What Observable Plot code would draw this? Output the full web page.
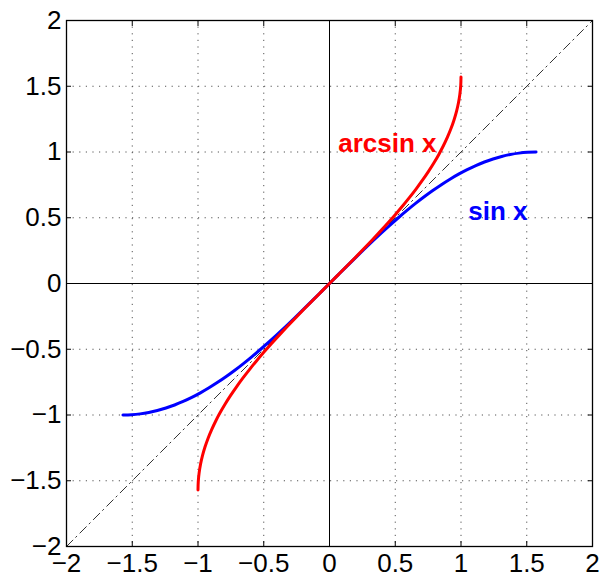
<!DOCTYPE html>
<html>
<head>
<meta charset="utf-8">
<script src="https://cdn.jsdelivr.net/npm/d3@7"></script>
<script src="https://cdn.jsdelivr.net/npm/@observablehq/plot@0.6"></script>
<style>
  html, body { margin: 0; padding: 0; background: white; }
  #chart { width: 600px; height: 576px; }
</style>
</head>
<body>
<div id="chart"></div>
<script>
// Angle samples (radians) and their sines
const angles = [-1.5708,-1.50535,-1.4399,-1.37445,-1.309,-1.24355,-1.1781,-1.11265,-1.0472,-0.98175,-0.9163,-0.85085,-0.7854,-0.71995,-0.6545,-0.58905,-0.5236,-0.45815,-0.3927,-0.32725,-0.2618,-0.19635,-0.1309,-0.06545,0,0.06545,0.1309,0.19635,0.2618,0.32725,0.3927,0.45815,0.5236,0.58905,0.6545,0.71995,0.7854,0.85085,0.9163,0.98175,1.0472,1.11265,1.1781,1.24355,1.309,1.37445,1.4399,1.50535,1.5708];
const sines = [-1,-0.99786,-0.99144,-0.98079,-0.96593,-0.94693,-0.92388,-0.89687,-0.86603,-0.83147,-0.79335,-0.75184,-0.70711,-0.65935,-0.60876,-0.55557,-0.5,-0.44229,-0.38268,-0.32144,-0.25882,-0.19509,-0.13053,-0.0654,0,0.0654,0.13053,0.19509,0.25882,0.32144,0.38268,0.44229,0.5,0.55557,0.60876,0.65935,0.70711,0.75184,0.79335,0.83147,0.86603,0.89687,0.92388,0.94693,0.96593,0.98079,0.99144,0.99786,1];

// Diagonal y = x reference line endpoints
const diagonal = [-2, 2];

// Tick values
const tickValues = [-2, -1.5, -1, -0.5, 0, 0.5, 1, 1.5, 2];

// Curve labels
const labelText = ["arcsin x", "sin x"];
const labelX = [0.44, 1.28];
const labelY = [1.06, 0.55];
const labelColor = ["#ff0000", "#0000ff"];

const sinData = angles.map((a, i) => ({x: a, y: sines[i]}));
const asinData = angles.map((a, i) => ({x: sines[i], y: a}));
const labels = labelText.map((t, i) => ({t, x: labelX[i], y: labelY[i], c: labelColor[i]}));
const fmt = d => String(d).replace("-", "\u2212");

const gridStyle = {stroke: "#555", strokeOpacity: 1, strokeWidth: 1, strokeDasharray: "1.2,5.4"};

const chart = Plot.plot({
  width: 600,
  height: 576,
  marginLeft: 66,
  marginRight: 8,
  marginTop: 20,
  marginBottom: 30,
  style: {fontFamily: "'Liberation Sans', Arial, Helvetica, sans-serif", fontSize: "26px", background: "white", color: "black", overflow: "visible"},
  x: {domain: [-2, 2]},
  y: {domain: [-2, 2]},
  marks: [
    Plot.gridX(tickValues, gridStyle),
    Plot.gridY(tickValues, gridStyle),
    Plot.ruleX([0], {stroke: "black", strokeWidth: 1}),
    Plot.ruleY([0], {stroke: "black", strokeWidth: 1}),
    Plot.line(diagonal, {x: d => d, y: d => d, stroke: "#333", strokeWidth: 1, strokeDasharray: "9,4,1.5,4.5"}),
    Plot.line(sinData, {x: "x", y: "y", stroke: "#0000ff", strokeWidth: 3, curve: "catmull-rom"}),
    Plot.line(asinData, {x: "x", y: "y", stroke: "#ff0000", strokeWidth: 3, curve: "catmull-rom"}),
    Plot.text(labels, {x: "x", y: "y", text: "t", fill: "c", fontWeight: "bold", fontSize: 26, textAnchor: "middle"}),
    Plot.frame({stroke: "black", strokeWidth: 1.3}),
    Plot.axisX(tickValues, {anchor: "bottom", tickSize: 0, tickPadding: 7, tickFormat: fmt, label: null, fontSize: 26}),
    Plot.axisY(tickValues, {anchor: "left", tickSize: 0, tickPadding: 5, tickFormat: fmt, label: null, fontSize: 26}),
    Plot.axisX(tickValues, {anchor: "bottom", tickSize: -5, tickFormat: () => "", label: null}),
    Plot.axisX(tickValues, {anchor: "top", tickSize: -5, tickFormat: () => "", label: null}),
    Plot.axisY(tickValues, {anchor: "left", tickSize: -5, tickFormat: () => "", label: null}),
    Plot.axisY(tickValues, {anchor: "right", tickSize: -5, tickFormat: () => "", label: null})
  ]
});
document.getElementById("chart").appendChild(chart);
</script>
</body>
</html>
